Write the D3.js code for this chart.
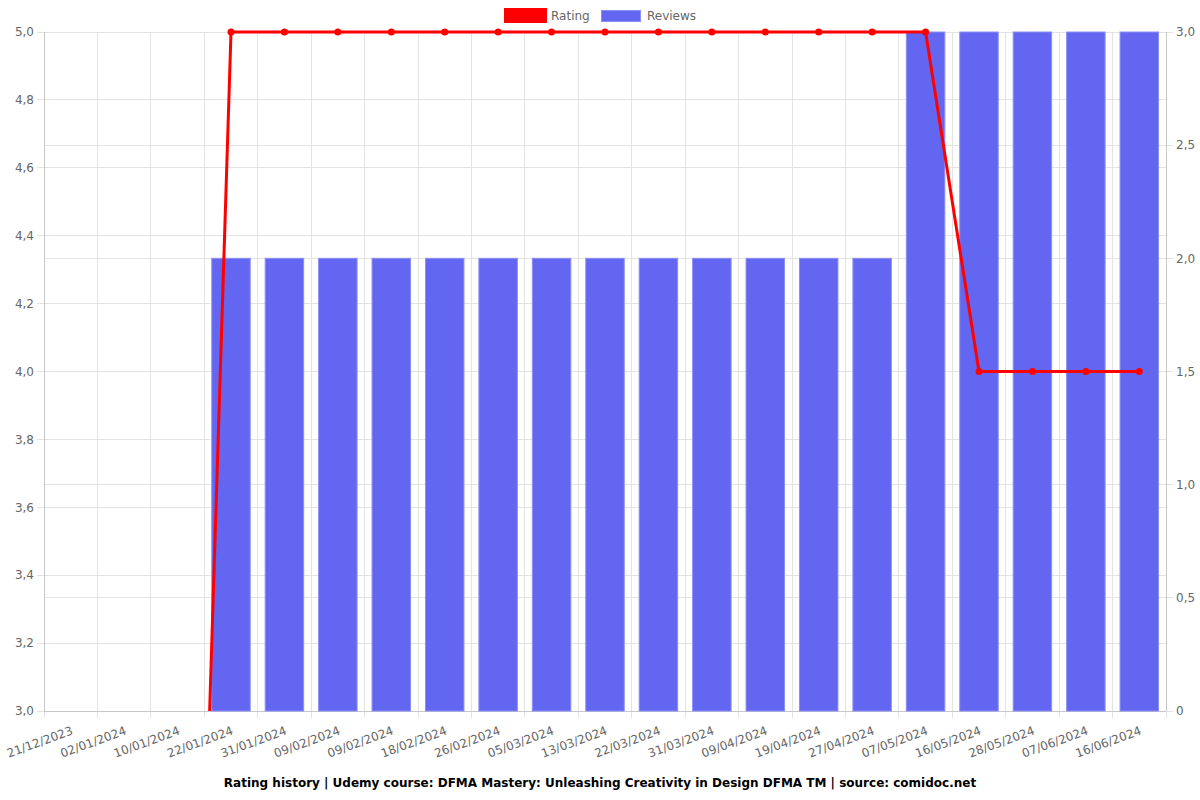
<!DOCTYPE html>
<html>
<head>
<meta charset="utf-8">
<script src="https://cdn.jsdelivr.net/npm/d3@7"></script>
<style>
html,body{margin:0;padding:0;background:#fff;}
svg{display:block;font-family:"DejaVu Sans",sans-serif;}
</style>
</head>
<body>
<svg id="chart" width="1200" height="800"></svg>
<script>
const categories = ["21/12/2023","02/01/2024","10/01/2024","22/01/2024","31/01/2024","09/02/2024","09/02/2024","18/02/2024","26/02/2024","05/03/2024","13/03/2024","22/03/2024","31/03/2024","09/04/2024","19/04/2024","27/04/2024","07/05/2024","16/05/2024","28/05/2024","07/06/2024","16/06/2024"];
const ratingValues = [0,0,0,5,5,5,5,5,5,5,5,5,5,5,5,5,5,4,4,4,4];
const reviewValues = [0,0,0,2,2,2,2,2,2,2,2,2,2,2,2,2,3,3,3,3,3];
const leftTicks = [3.0,3.2,3.4,3.6,3.8,4.0,4.2,4.4,4.6,4.8,5.0];
const rightTicks = [0,0.5,1.0,1.5,2.0,2.5,3.0];
const titleText = "Rating history | Udemy course: DFMA Mastery: Unleashing Creativity in Design DFMA TM | source: comidoc.net";

const svg = d3.select("#chart");
const L = 44, R = 1166, T = 32, B = 711;
const fmtL = d => d3.format(".1f")(d).replace(".", ",");
const fmtR = d => d === 0 ? "0" : d3.format(".1f")(d).replace(".", ",");

const x = d3.scaleBand().domain(d3.range(categories.length)).range([L, R]).paddingInner(0).paddingOuter(0);
const yL = d3.scaleLinear().domain([3, 5]).range([B, T]);
const yR = d3.scaleLinear().domain([0, 3]).range([B, T]);
const bw = x.bandwidth();

const grid = svg.append("g");
const bounds = d3.range(categories.length + 1).map(i => L + i * bw);
grid.selectAll("line.v").data(bounds).join("line")
  .attr("x1", d => d).attr("x2", d => d).attr("y1", T).attr("y2", B + 7)
  .attr("stroke", "#e3e3e3").attr("stroke-width", 1).attr("shape-rendering", "crispEdges");
grid.selectAll("line.hl").data(leftTicks).join("line")
  .attr("x1", L - 7).attr("x2", R).attr("y1", d => yL(d)).attr("y2", d => yL(d))
  .attr("stroke", "#e3e3e3").attr("shape-rendering", "crispEdges");
grid.selectAll("line.hr").data(rightTicks).join("line")
  .attr("x1", L).attr("x2", R + 7).attr("y1", d => yR(d)).attr("y2", d => yR(d))
  .attr("stroke", "#e3e3e3").attr("shape-rendering", "crispEdges");
svg.append("line").attr("x1", L).attr("x2", L).attr("y1", T).attr("y2", B).attr("stroke", "#c8c8c8").attr("shape-rendering","crispEdges");
svg.append("line").attr("x1", R).attr("x2", R).attr("y1", T).attr("y2", B).attr("stroke", "#c8c8c8").attr("shape-rendering","crispEdges");
svg.append("line").attr("x1", L).attr("x2", R).attr("y1", B).attr("y2", B).attr("stroke", "#c8c8c8").attr("shape-rendering","crispEdges");

const barW = bw * 0.72;
svg.append("g").selectAll("rect").data(reviewValues.map((v,i)=>({v,i})).filter(d => d.v > 0)).join("rect")
  .attr("x", d => x(d.i) + (bw - barW) / 2)
  .attr("y", d => yR(d.v))
  .attr("width", barW)
  .attr("height", d => yR(0) - yR(d.v))
  .attr("fill", "#6366f1")
  .attr("stroke", "#8b8ef5").attr("stroke-width", 1);

svg.append("clipPath").attr("id", "clip").append("rect").attr("x", L).attr("y", T - 5).attr("width", R - L).attr("height", B - T + 5);

const cx = i => x(i) + bw / 2;
const line = d3.line().x((d, i) => cx(i)).y(d => yL(d));
const lg = svg.append("g").attr("clip-path", "url(#clip)");
lg.append("path").datum(ratingValues).attr("d", line)
  .attr("fill", "none").attr("stroke", "#ff0000").attr("stroke-width", 3).attr("stroke-linejoin", "round");
lg.selectAll("circle").data(ratingValues.map((v,i)=>({v,i})).filter(d => d.v >= 3)).join("circle")
  .attr("cx", d => cx(d.i)).attr("cy", d => yL(d.v)).attr("r", 3.5).attr("fill", "#ff0000");

svg.append("g").selectAll("text").data(leftTicks).join("text")
  .attr("x", L - 10).attr("y", d => yL(d)).attr("dy", "0.35em")
  .attr("text-anchor", "end").attr("font-size", 12).attr("fill", "#666").text(fmtL);
svg.append("g").selectAll("text").data(rightTicks).join("text")
  .attr("x", R + 10).attr("y", d => yR(d)).attr("dy", "0.35em")
  .attr("text-anchor", "start").attr("font-size", 12).attr("fill", "#666").text(fmtR);
svg.append("g").selectAll("text").data(categories).join("text")
  .attr("transform", (d, i) => `translate(${cx(i) + 3},${B + 23}) rotate(-20)`)
  .attr("text-anchor", "end")
  .attr("font-size", 12).attr("fill", "#666").text(d => d);

const leg = svg.append("g");
leg.append("rect").attr("x", 505.5).attr("y", 9.5).attr("width", 40).attr("height", 12)
  .attr("fill", "#ff0000").attr("stroke", "#ff0000").attr("stroke-width", 3);
leg.append("text").attr("x", 551).attr("y", 20).attr("font-size", 12).attr("fill", "#666").text("Rating");
leg.append("rect").attr("x", 601.5).attr("y", 10.5).attr("width", 39).attr("height", 11)
  .attr("fill", "#6366f1").attr("stroke", "#8b8ef5").attr("stroke-width", 1);
leg.append("text").attr("x", 647).attr("y", 20).attr("font-size", 12).attr("fill", "#666").text("Reviews");

svg.append("text").attr("x", 600).attr("y", 787).attr("text-anchor", "middle")
  .attr("font-size", 12).attr("font-weight", "bold").attr("fill", "#000").text(titleText);
</script>
</body>
</html>
